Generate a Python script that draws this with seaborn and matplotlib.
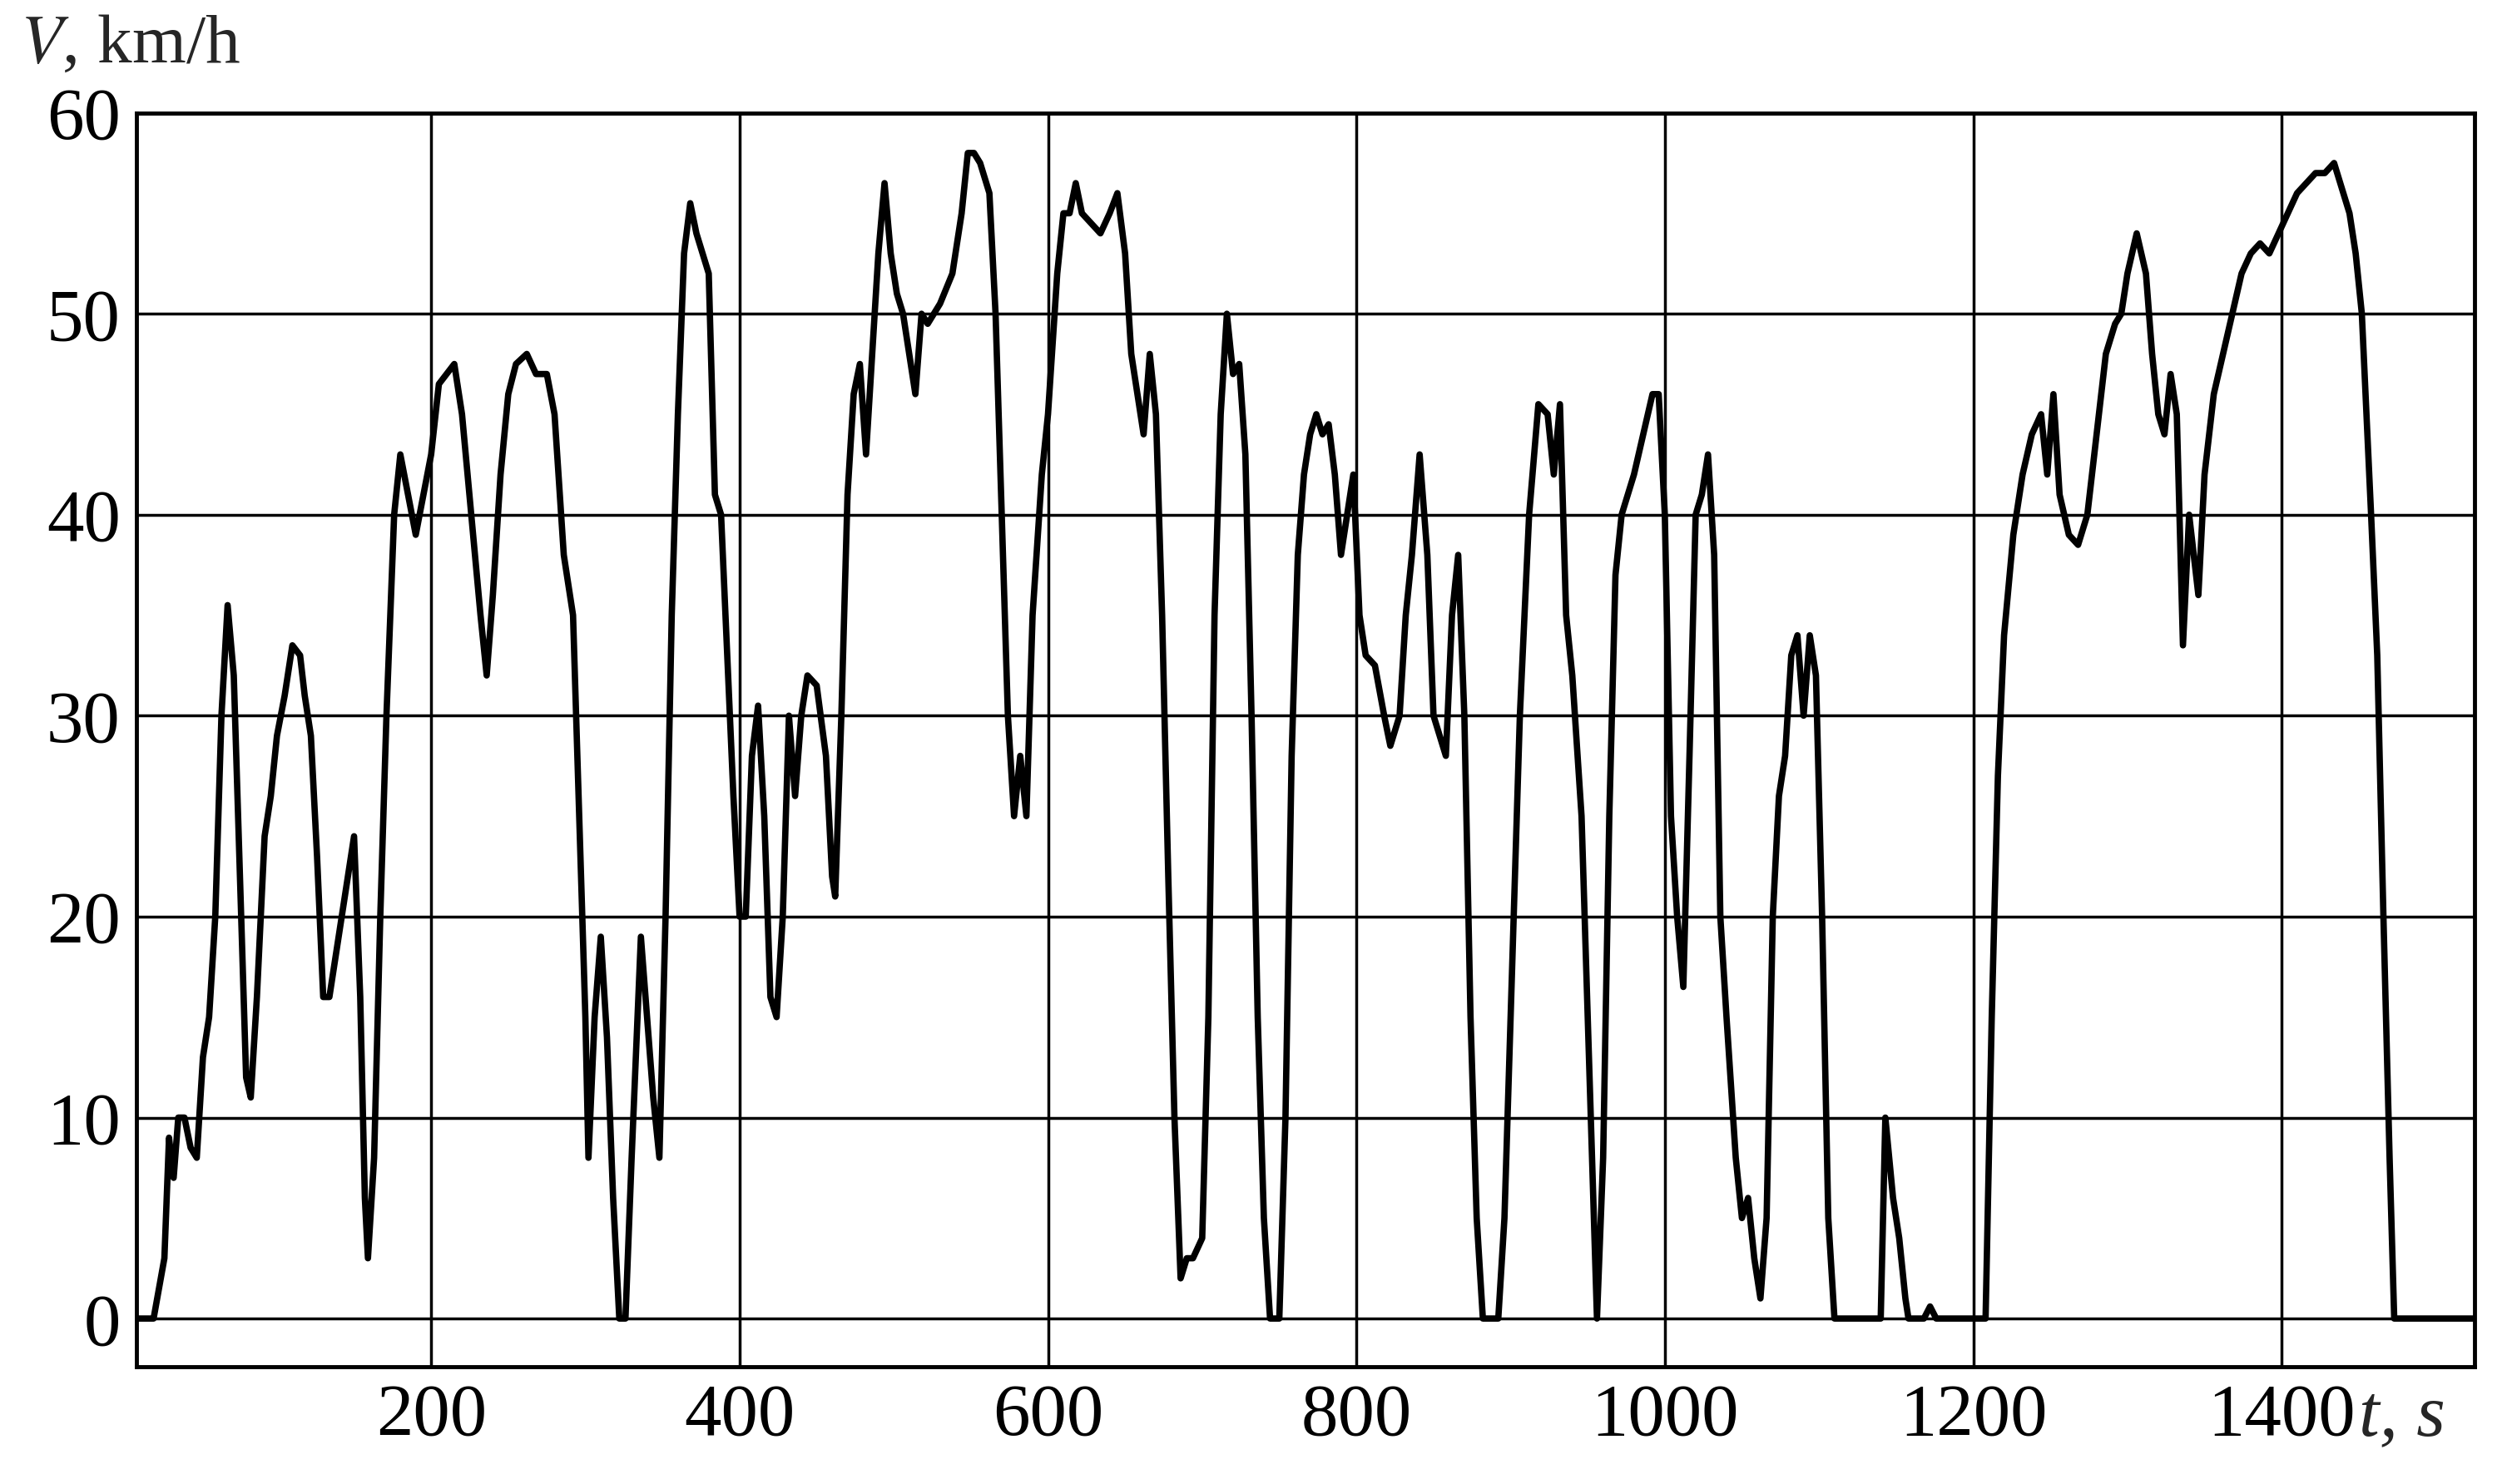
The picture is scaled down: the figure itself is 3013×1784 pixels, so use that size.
import matplotlib
matplotlib.use("Agg")
import matplotlib.pyplot as plt
import seaborn as sns
import pandas as pd

t = [9,20,27,30,33,36,40,44,48,52,56,60,64,68,72,76,80,83,87,92,96,100,105,110,115,118,122,126,130,134,140,146,150,154,157,159,163,167,171,176,180,185,190,195,200,205,210,215,220,226,232,236,240,245,250,255,262,268,275,280,286,292,296,300,302,306,310,314,318,322,326,330,336,340,344,348,352,356,360,364,368,372,376,380,384,388,392,396,400,404,408,412,416,420,424,428,432,436,440,444,450,456,460,462,466,470,474,478,482,486,490,494,498,502,506,510,514,518,522,530,538,544,548,552,556,562,566,570,574,578,582,586,590,596,600,606,610,614,618,622,628,634,640,645,650,654,658,662,666,670,674,678,682,686,690,694,700,704,708,712,716,720,724,728,732,736,740,744,750,754,758,762,766,770,774,778,782,786,790,794,798,802,806,812,818,822,828,832,836,841,846,850,854,858,862,866,870,874,878,882,892,896,900,906,912,918,924,928,932,936,940,946,950,954,956,960,964,968,972,976,980,986,992,996,1000,1004,1008,1012,1016,1020,1024,1028,1032,1036,1040,1046,1050,1054,1058,1062,1066,1070,1074,1078,1082,1086,1090,1094,1098,1102,1106,1110,1140,1143,1148,1152,1156,1158,1168,1172,1176,1208,1212,1216,1220,1226,1232,1238,1244,1248,1252,1256,1262,1268,1274,1280,1286,1292,1296,1300,1306,1312,1316,1320,1324,1328,1332,1336,1340,1346,1350,1356,1362,1368,1374,1380,1386,1392,1398,1404,1410,1416,1422,1428,1434,1440,1444,1448,1452,1458,1462,1466,1470,1473,1525]
v = [0,0,3,9,7,10,10,8.5,8,13,15,20,30,35.5,32,22,12,11,16,24,26,29,31,33.5,33,31,29,23,16,16,19,22,24,16,6,3,8,20,30,40,43,41,39,41,43,46.5,47,47.5,45,40,35,32,36,42,46,47.5,48,47,47,45,38,35,25,15,8,15,19,14,6,0,0,8,19,15,11,8,20,35,45,53,55.5,54,53,52,41,40,33,26,20,20,28,30.5,25,16,15,20,30,26,30,32,31.5,28,22,21,30,41,46,47.5,43,48,53,56.5,53,51,50,48,46,50,49.5,50.5,52,55,58,58,57.5,56,50,40,30,25,28,25,35,42,45,52,55,55,56.5,55,54.5,54,55,56,53,48,46,44,48,45,35,22,10,2,3,3,4,15,35,45,50,47,47.5,43,30,15,5,0,0,10,28,38,42,44,45,44,44.5,42,38,40,42,35,33,32.5,30,28.5,30,35,38,43,38,30,29,28,35,38,30,15,5,0,0,5,15,30,40,45.5,45,42,45.5,35,32,25,15,5,0,8,25,37,40,41,42,44,46,46,40,25,20,16.5,28,40,41,43,38,20,15,8,5,6,3,1,5,20,26,28,33,34,30,34,32,20,5,0,0,10,6,4,1,0,0,0.6,0,0,15,27,34,39,42,44,45,42,46,41,39,38.5,40,44,48,49.5,50,52,54,52,48,45,44,47,45,33.5,40,36,42,46,48,50,52,53,53.5,53,54,55,56,56.5,57,57,57.5,56,55,53,50,40,33,20,8,0,0]
x_ticks = [200, 400, 600, 800, 1000, 1200, 1400]
y_ticks = [0, 10, 20, 30, 40, 50, 60]

df = pd.DataFrame({"t": t, "v": v})
sns.set_style("white")
plt.rcParams['font.family'] = ['Liberation Serif', 'DejaVu Serif']
plt.rcParams['mathtext.fontset'] = 'stix'

fig = plt.figure(figsize=(30.13, 17.84), dpi=100)
ax = fig.add_axes([0.0545, 0.079, 0.9325, 0.845])
sns.lineplot(data=df, x="t", y="v", ax=ax, color="black", linewidth=5.5, zorder=3)
ax.set_xlim(9, 1525)
ax.set_ylim(-2.4, 60)
ax.set_xticks(x_ticks)
ax.set_yticks(y_ticks)
ax.grid(True, color="black", linewidth=2.5)
for s in ax.spines.values():
    s.set_color("black"); s.set_linewidth(3.5)
ax.tick_params(axis="both", labelsize=64, length=0, pad=14, colors="black")
ax.set_xlabel(""); ax.set_ylabel("")
fig.text(0.008, 0.948, "$V$, km/h", fontsize=60, va="bottom")
fig.text(0.958, 0.045, "t, s", fontsize=64, style="italic", ha="center", va="center")
fig.savefig("out.png", dpi=100)
